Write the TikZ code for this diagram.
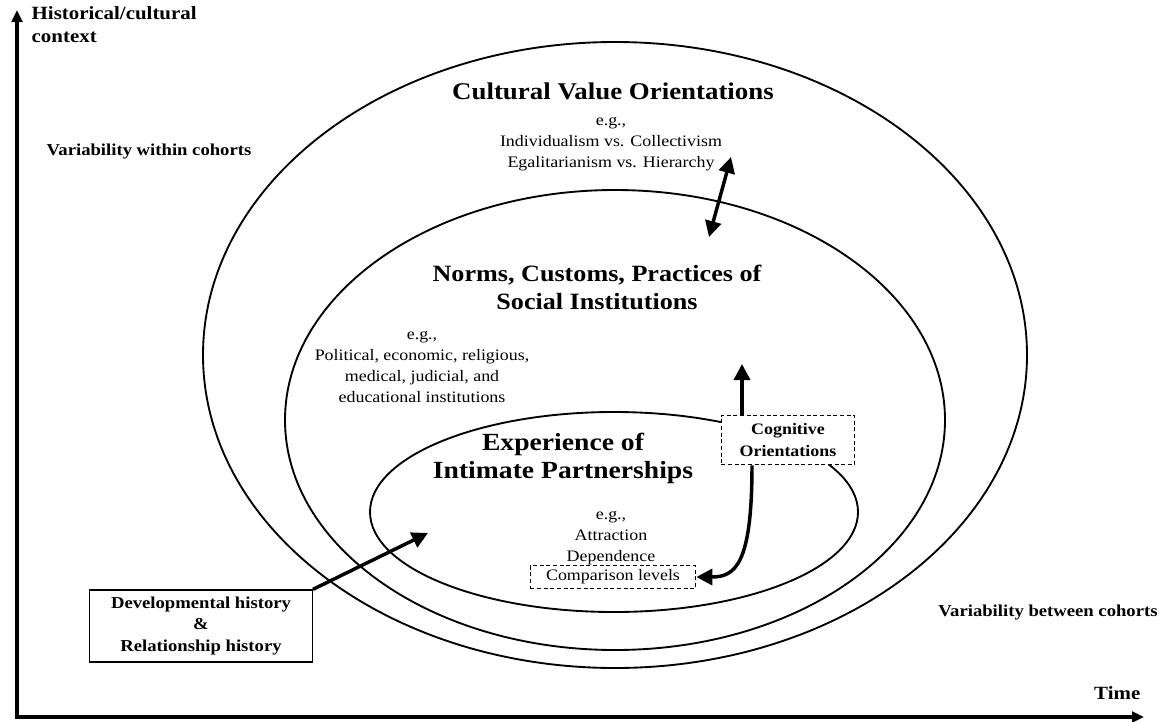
\documentclass[tikz,border=0pt]{standalone}
\usepackage{fontspec}
\setmainfont{Liberation Serif}[FakeStretch=1.12]
\usetikzlibrary{arrows.meta}

\begin{document}
\begin{tikzpicture}[x=0.75pt, y=-0.75pt,
    ring/.style={line width=1.4pt},
    axis/.style={line width=2.6pt, {Triangle[length=9pt,width=8pt]}-{Triangle[length=9pt,width=8pt]}},
    flow/.style={line width=2.6pt, -{Triangle[length=12pt,width=12pt]}},
    title/.style={font=\bfseries\fontsize{18}{21}\selectfont, align=center},
    small/.style={font=\fontsize{12}{15.75}\selectfont, align=center},
    label/.style={font=\bfseries\fontsize{12.5}{16}\selectfont, align=center},
    dashbox/.style={draw, dashed, dash pattern=on 3pt off 2pt, line width=1pt, fill=white, inner sep=2pt}]
    \useasboundingbox (0,0) rectangle (1173,721);

    % Nested contexts
    \draw[ring] (615,355) ellipse [x radius=309pt, y radius=234.75pt];
    \draw[ring] (615,420) ellipse [x radius=247.5pt, y radius=172.5pt];
    \draw[ring] (614,512) ellipse [x radius=183pt, y radius=75pt];

    % Axes
    \coordinate (o) at (17,717);
    \coordinate (ytip) at (17,10);
    \coordinate (xtip) at (1144,717);
    \draw[axis] (ytip) -- (o) -- (xtip);
    \node[label, font=\bfseries\fontsize{14}{17}\selectfont, align=left, anchor=north west] (hist) at (27,2) {Historical/cultural\\context};
    \node[label, anchor=south east] (time) at (1145,704) {\fontsize{14}{17}\selectfont Time};
    \node[label] (within) at (149,152) {Variability within cohorts};
    \node[label] (between) at (1048,613) {Variability between cohorts};

    % Outer ring text
    \node[title] (cvo) at (613,91) {Cultural Value Orientations};
    \node[small] (cvoeg) at (611,144) {e.g.,\\Individualism vs. Collectivism\\Egalitarianism vs. Hierarchy};

    % Middle ring text
    \node[title, font=\bfseries\fontsize{17.5}{21}\selectfont] (norms) at (597,287) {Norms, Customs, Practices of\\Social Institutions};
    \node[small] (normseg) at (422,367) {e.g.,\\Political, economic, religious,\\medical, judicial, and\\educational institutions};

    % Inner ring text
    \node[title, font=\bfseries\fontsize{18.5}{21}\selectfont] (exp) at (563,458) {Experience of\\Intimate Partnerships};
    \node[small] (expeg) at (611,538) {e.g.,\\Attraction\\Dependence};
    \node[dashbox, small, minimum width=124pt, minimum height=17pt] (cmp) at (613,577) {Comparison levels};
    \node[dashbox, label, font=\bfseries\fontsize{12}{16}\selectfont, minimum width=100pt, minimum height=37pt] (cog) at (788,440) {Cognitive\\Orientations};

    % History box
    \node[draw, line width=1pt, label, minimum width=167pt, minimum height=54pt] (dev) at (201,626) {Developmental history\\\&\\Relationship history};

    % Arrows
    \coordinate (cvoend) at (731,157);
    \coordinate (normsend) at (709,237);
    \draw[flow, {Triangle[length=12pt,width=12pt]}-{Triangle[length=12pt,width=12pt]}] (cvoend) -- (normsend);
    \coordinate (cogup) at ([xshift=-34.5pt]cog.north);
    \coordinate (normsin) at (742,364);
    \draw[flow] (cogup) -- (normsin);
    \coordinate (cogout) at ([xshift=-27pt]cog.south);
    \draw[flow] (cogout) .. controls (752,565) and (735,577) .. (cmp.east);
    \coordinate (expin) at (428,533);
    \draw[flow] (dev.north east) -- (expin);
\end{tikzpicture}
\end{document}
